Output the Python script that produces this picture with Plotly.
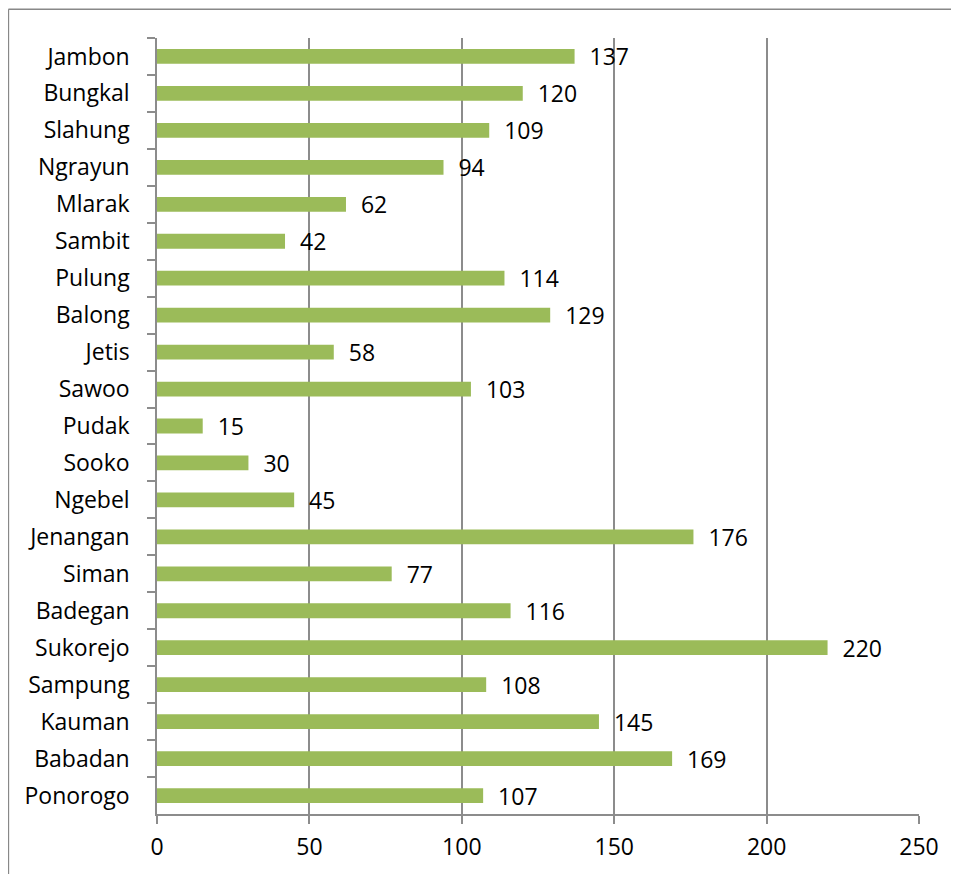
import plotly.graph_objs as go

kecamatan = ["Jambon", "Bungkal", "Slahung", "Ngrayun", "Mlarak", "Sambit", "Pulung",
             "Balong", "Jetis", "Sawoo", "Pudak", "Sooko", "Ngebel", "Jenangan", "Siman",
             "Badegan", "Sukorejo", "Sampung", "Kauman", "Babadan", "Ponorogo"]
jumlah = [137, 120, 109, 94, 62, 42, 114, 129, 58, 103, 15, 30, 45, 176, 77, 116, 220,
          108, 145, 169, 107]
x_ticks = [0, 50, 100, 150, 200, 250]

FONT = "Open Sans, Carlito, Calibri, sans-serif"
GRID = "#8c8c8c"

fig = go.Figure()
fig.add_trace(go.Bar(
    x=jumlah, y=kecamatan, orientation="h",
    marker=dict(color="#9bbb59", line=dict(width=0)),
    width=0.4,
    text=["  " + str(v) for v in jumlah],
    textposition="outside",
    constraintext="none",
    textfont=dict(family=FONT, size=23, color="black"),
    cliponaxis=False,
))

# page body has an 8px margin, so the figure is 8px smaller than the window
fig.layout.update({
    "width": 951, "height": 866,
    "margin": dict(l=149, r=40, t=30, b=51),
    "paper_bgcolor": "white", "plot_bgcolor": "white",
    "showlegend": False,
    "font": dict(family=FONT, size=23, color="black"),
    "xaxis": dict(range=[0, 250], tickvals=x_ticks, showgrid=True, gridcolor=GRID,
                  gridwidth=1.5, zeroline=False, showline=True, linecolor=GRID,
                  linewidth=1.5, ticks="outside", ticklen=8, tickcolor=GRID,
                  tickwidth=1.5, ticklabelstandoff=4),
    "yaxis": dict(autorange="reversed", showgrid=False, zeroline=False, showline=True,
                  linecolor=GRID, linewidth=1.5, ticks="outside", ticklen=8,
                  tickcolor=GRID, tickwidth=1.5, tickson="boundaries",
                  ticklabelstandoff=21),
})

# outer chart frame (only left and top edges are visible in the crop)
fig.add_shape(type="line", xref="paper", yref="paper",
              x0=-0.195, x1=1.2, y0=1.037, y1=1.037,
              line=dict(color="#888888", width=1.5))
fig.add_shape(type="line", xref="paper", yref="paper",
              x0=-0.195, x1=-0.195, y0=-0.2, y1=1.037,
              line=dict(color="#888888", width=1.5))

fig.write_html("out.html")
